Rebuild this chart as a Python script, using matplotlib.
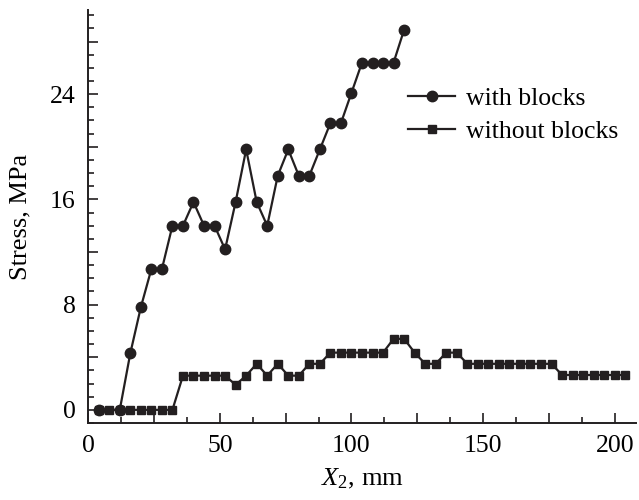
import matplotlib.pyplot as plt
from matplotlib.ticker import MultipleLocator, FuncFormatter

plt.rcParams['font.family'] = ['Liberation Serif', 'DejaVu Serif']
plt.rcParams['mathtext.fontset'] = 'custom'
plt.rcParams['mathtext.rm'] = 'Liberation Serif'
plt.rcParams['mathtext.it'] = 'Liberation Serif:italic'

# data
x_with = [4, 12, 16, 20, 24, 28, 32, 36, 40, 44, 48, 52, 56, 60, 64, 68, 72, 76,
          80, 84, 88, 92, 96, 100, 104, 108, 112, 116, 120]
y_with = [0, 0, 4.3, 7.8, 10.7, 10.7, 14.0, 14.0, 15.8, 14.0, 14.0, 12.2, 15.8,
          19.8, 15.8, 14.0, 17.8, 19.8, 17.8, 17.8, 19.8, 21.8, 21.8, 24.1,
          26.4, 26.4, 26.4, 26.4, 28.9]

x_without = list(range(4, 205, 4))
y_without = [0, 0, 0, 0, 0, 0, 0, 0,
             2.6, 2.6, 2.6, 2.6, 2.6, 1.9, 2.6, 3.5, 2.6, 3.5, 2.6, 2.6,
             3.5, 3.5, 4.35, 4.35, 4.35, 4.35, 4.35, 4.35, 5.4, 5.4, 4.35,
             3.5, 3.5, 4.35, 4.35,
             3.5, 3.5, 3.5, 3.5, 3.5, 3.5, 3.5, 3.5, 3.5,
             2.65, 2.65, 2.65, 2.65, 2.65, 2.65, 2.65]

col = '#231f20'

fig = plt.figure(figsize=(6.39, 5.0), dpi=100)
ax = fig.add_axes([0.138, 0.154, 0.857, 0.826])

ax.plot(x_with, y_with, '-o', color=col, lw=1.6, ms=7.5, label='with blocks')
ax.plot(x_without, y_without, '-s', color=col, lw=1.6, ms=5.5, label='without blocks')

ax.set_xlim(0, 208)
ax.set_ylim(-1, 30.4)

# long ticks every 25 mm / 4 MPa, labels only every 50 mm / 8 MPa
ax.xaxis.set_major_locator(MultipleLocator(25))
ax.xaxis.set_minor_locator(MultipleLocator(12.5))
ax.xaxis.set_major_formatter(FuncFormatter(lambda v, p: f'{v:.0f}' if v % 50 == 0 else ''))
ax.yaxis.set_major_locator(MultipleLocator(4))
ax.yaxis.set_minor_locator(MultipleLocator(1))
ax.yaxis.set_major_formatter(FuncFormatter(lambda v, p: f'{v:.0f}' if v % 8 == 0 else ''))

for s in ['top', 'right']:
    ax.spines[s].set_visible(False)
for s in ['left', 'bottom']:
    ax.spines[s].set_linewidth(1.4)
    ax.spines[s].set_color(col)

ax.tick_params(which='both', direction='in', color=col, width=1.2, labelsize=18.5, pad=9)
ax.tick_params(which='major', length=7.5)
ax.tick_params(which='minor', length=4.5)

ax.set_xlabel(r'$X_2$, mm', fontsize=19, labelpad=7)
ax.set_ylabel('Stress, MPa', fontsize=19)
ax.yaxis.set_label_coords(-0.103, 0.5)

ax.legend(loc='upper left', bbox_to_anchor=(0.584, 0.814), frameon=False, fontsize=18.5,
          handlelength=1.83, handletextpad=0.43, labelspacing=0.38, borderpad=0,
          borderaxespad=0)

fig.savefig('out.png', dpi=100)
